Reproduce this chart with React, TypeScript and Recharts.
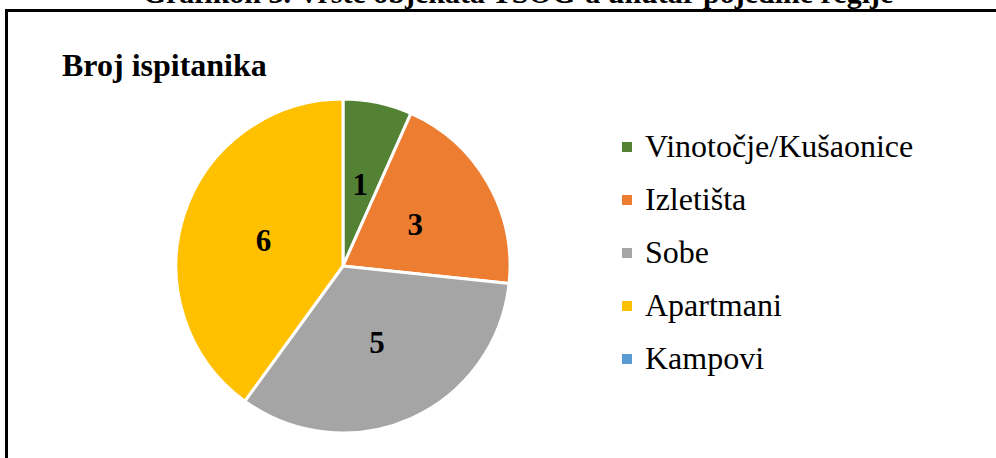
import { PieChart, Pie, Cell, Legend } from 'recharts';

const categories = ['Vinotočje/Kušaonice', 'Izletišta', 'Sobe', 'Apartmani', 'Kampovi'];
const values = [1, 3, 5, 6, 0];
const COLORS = ['#548235', '#ED7D31', '#A5A5A5', '#FFC000', '#5B9BD5'];

const data = categories.map((name, i) => ({ name, value: values[i] }));

const FONT = '"Liberation Serif", "Times New Roman", serif';
const RAD = Math.PI / 180;

const renderLabel = ({ cx, cy, midAngle, outerRadius, value }: any) => {
    if (!value) return null;
    const r = outerRadius * 0.5;
    const x = cx + r * Math.cos(-midAngle * RAD);
    const y = cy + r * Math.sin(-midAngle * RAD);
    return (
        <text
            x={x}
            y={y}
            fill="#000"
            textAnchor="middle"
            dominantBaseline="central"
            fontFamily={FONT}
            fontWeight="bold"
            fontSize={31}
        >
            {value}
        </text>
    );
};

const CustomLegend = () => (
    <div style={{ fontFamily: FONT, fontSize: 32, color: '#000' }}>
        {data.map((entry, index) => (
            <div
                key={index}
                style={{ display: 'flex', alignItems: 'center', height: 53 }}
            >
                <div
                    style={{
                        width: 10,
                        height: 10,
                        backgroundColor: COLORS[index],
                        marginRight: 13,
                    }}
                />
                <span>{entry.name}</span>
            </div>
        ))}
    </div>
);

export default function App() {
    return (
        <div
            style={{
                position: 'fixed',
                left: 0,
                top: 0,
                width: 996,
                height: 458,
                overflow: 'hidden',
                background: '#fff',
            }}
        >
            <div
                style={{
                    position: 'absolute',
                    left: 0,
                    top: -24,
                    width: 1036,
                    textAlign: 'center',
                    fontFamily: FONT,
                    fontWeight: 'bold',
                    fontSize: 30,
                    lineHeight: '34px',
                    whiteSpace: 'nowrap',
                }}
            >
                Grafikon 3. Vrste objekata TSOG-a unutar pojedine regije
            </div>
            <div
                style={{
                    position: 'absolute',
                    left: 5,
                    top: 9,
                    width: 1100,
                    height: 600,
                    border: '3px solid #000',
                }}
            />
            <div
                style={{
                    position: 'absolute',
                    left: 62,
                    top: 45,
                    fontFamily: FONT,
                    fontWeight: 'bold',
                    fontSize: 32,
                    lineHeight: '40px',
                }}
            >
                Broj ispitanika
            </div>
            <div style={{ position: 'absolute', left: 0, top: 0 }}>
                <PieChart width={996} height={458} margin={{ top: 0, right: 0, bottom: 0, left: 0 }}>
                    <Pie
                        data={data}
                        dataKey="value"
                        nameKey="name"
                        cx={343}
                        cy={266}
                        outerRadius={167}
                        startAngle={90}
                        endAngle={-270}
                        stroke="#fff"
                        strokeWidth={3}
                        labelLine={false}
                        label={renderLabel}
                        isAnimationActive={false}
                    >
                        {data.map((_, index) => (
                            <Cell key={`cell-${index}`} fill={COLORS[index]} />
                        ))}
                    </Pie>
                    <Legend
                        content={<CustomLegend />}
                        wrapperStyle={{ position: 'absolute', left: 622, top: 120, width: 370 }}
                    />
                </PieChart>
            </div>
        </div>
    );
}
